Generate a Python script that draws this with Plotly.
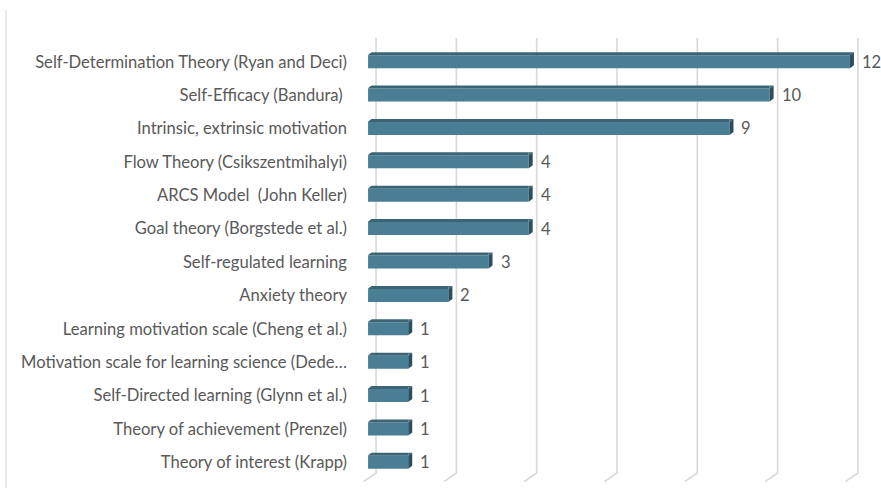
import plotly.graph_objects as go

# Motivation theories and how many studies cited each
theories = [
    "Self-Determination Theory (Ryan and Deci)",
    "Self-Efficacy (Bandura)\u00a0",
    "Intrinsic, extrinsic motivation",
    "Flow Theory (Csikszentmihalyi)",
    "ARCS Model\u00a0 (John Keller)",
    "Goal theory (Borgstede et al.)",
    "Self-regulated learning",
    "Anxiety theory",
    "Learning motivation scale (Cheng et al.)",
    "Motivation scale for learning science (Dede\u2026",
    "Self-Directed learning (Glynn et al.)",
    "Theory of achievement (Prenzel)",
    "Theory of interest (Krapp)",
]
counts = [12, 10, 9, 4, 4, 4, 3, 2, 1, 1, 1, 1, 1]
grid_ticks = [0, 2, 4, 6, 8, 10, 12]

W, H = 881, 488
X_RANGE = [-0.4, 12.4]
PX_PER_UNIT = 40.17
M_L = round(368 - (0 - X_RANGE[0]) * PX_PER_UNIT)
M_R = round(W - (368 + X_RANGE[1] * PX_PER_UNIT))
M_T, M_B = 45, 9
PLOT_W = W - M_L - M_R
PLOT_H = H - M_T - M_B

FRONT = "#4a7e94"
TOP = "#3b6577"
SIDE = "#2c4f5f"
GRID = "#d9d9d9"
TEXT = "#595959"
FONT = "Lato"
FSIZE = 16.6

n = len(theories)
ypos = list(range(n))

# bar geometry (pixels): half height of front face and 3-D depth offset
HALF = 6.5
DX, DY = 4, 3

fig = go.Figure()
fig.add_trace(go.Bar(
    x=counts, y=ypos, orientation="h", width=13 / (PLOT_H / n),
    marker=dict(color=FRONT, line=dict(width=0)),
    hoverinfo="x+y",
))

shapes = []

# back-wall gridlines bending onto the floor
for t in grid_ticks:
    top_up = PLOT_H - (38 - M_T)          # pixels above plot bottom
    shapes.append(dict(
        type="path", layer="below",
        xref="x", xsizemode="pixel", xanchor=t,
        yref="paper", ysizemode="pixel", yanchor=0,
        path=f"M 8,{top_up} L 8,{H - M_B - 473} L -4.5,{H - M_B - 481.7}",
        line=dict(color=GRID, width=1.6),
    ))

# 3-D faces of each bar
for i, v in enumerate(counts):
    # top face
    shapes.append(dict(
        type="rect", layer="above",
        xref="x", x0=0, x1=v,
        yref="y", ysizemode="pixel", yanchor=i,
        y0=HALF, y1=HALF + DY,
        fillcolor=TOP, line=dict(width=0),
    ))
    # slanted left corner of the top face
    shapes.append(dict(
        type="path", layer="above",
        xref="x", xsizemode="pixel", xanchor=0,
        yref="y", ysizemode="pixel", yanchor=i,
        path=f"M -0.5,{HALF} L -0.5,{HALF + DY + 0.5} L {DX},{HALF + DY + 0.5} Z",
        fillcolor="white", line=dict(width=0),
    ))
    # right end of the top face
    shapes.append(dict(
        type="path", layer="above",
        xref="x", xsizemode="pixel", xanchor=v,
        yref="y", ysizemode="pixel", yanchor=i,
        path=f"M 0,{HALF} L {DX},{HALF + DY} L 0,{HALF + DY} Z",
        fillcolor=TOP, line=dict(width=0),
    ))
    # side face
    shapes.append(dict(
        type="path", layer="above",
        xref="x", xsizemode="pixel", xanchor=v,
        yref="y", ysizemode="pixel", yanchor=i,
        path=f"M 0,{-HALF} L 0,{HALF} L {DX},{HALF + DY} L {DX},{-HALF + DY} Z",
        fillcolor=SIDE, line=dict(width=0),
    ))

# chart border on the left
border_x = (6 - M_L) / PLOT_W
shapes.append(dict(
    type="line", xref="paper", yref="paper",
    x0=border_x, x1=border_x,
    y0=(H - M_B - 10) / PLOT_H, y1=-M_B / PLOT_H - 0.01,
    line=dict(color="#e3e3e3", width=1.5),
))

annotations = [
    dict(x=v, y=i, xref="x", yref="y", text=str(v), showarrow=False,
         xanchor="left", yanchor="middle", xshift=10,
         font=dict(family=FONT, size=FSIZE, color=TEXT))
    for i, v in enumerate(counts)
]

fig.update_layout(
    width=W, height=H,
    margin=dict(l=M_L, r=M_R, t=M_T, b=M_B, pad=0),
    paper_bgcolor="white", plot_bgcolor="white",
    showlegend=False,
    shapes=shapes, annotations=annotations,
    xaxis=dict(range=X_RANGE, showgrid=False, zeroline=False,
               showticklabels=False, showline=False, fixedrange=True),
    yaxis=dict(range=[n - 0.5, -0.5], tickmode="array", tickvals=ypos,
               ticktext=theories, showgrid=False, zeroline=False,
               showline=False, ticks="", ticklabelstandoff=4,
               tickfont=dict(family=FONT, size=FSIZE, color=TEXT),
               fixedrange=True),
    font=dict(family=FONT, color=TEXT),
)

fig.write_html("out.html")
